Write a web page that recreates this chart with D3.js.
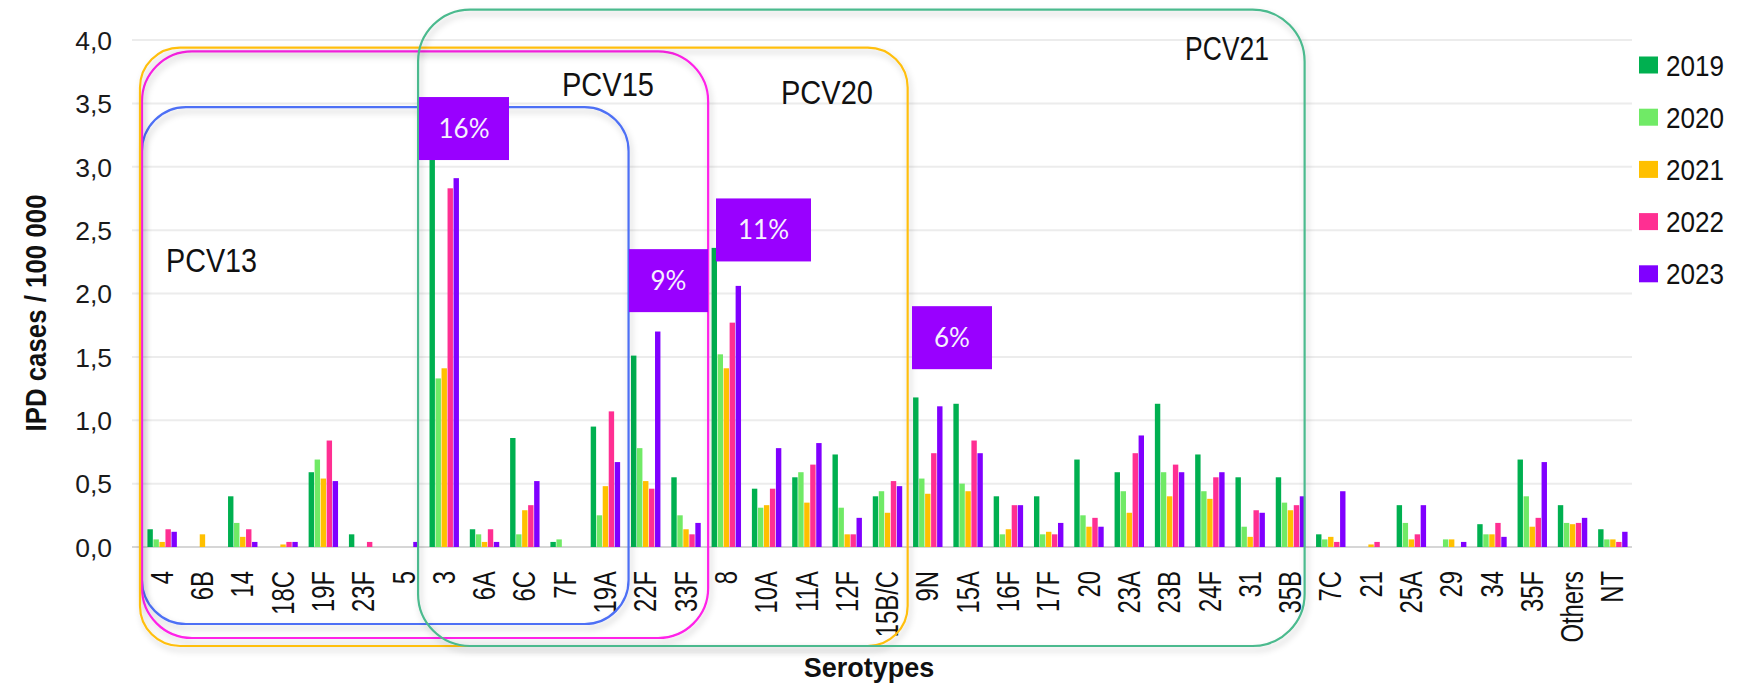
<!DOCTYPE html>
<html><head><meta charset="utf-8">
<script src="https://cdn.jsdelivr.net/npm/d3@7"></script>
<style>html,body{margin:0;padding:0;background:#fff;}svg{display:block;}</style>
</head><body>
<svg id="chart" width="1750" height="686"></svg>
<script>
const categories = ["4","6B","14","18C","19F","23F","5","3","6A","6C","7F","19A","22F","33F","8","10A","11A","12F","15B/C","9N","15A","16F","17F","20","23A","23B","24F","31","35B","7C","21","25A","29","34","35F","Others","NT"];
const years = ["2019","2020","2021","2022","2023"];
const v2019 = [0.14,0,0.40,0,0.59,0.10,0,3.15,0.14,0.86,0.04,0.95,1.51,0.55,2.36,0.46,0.55,0.73,0.40,1.18,1.13,0.40,0.40,0.69,0.59,1.13,0.73,0.55,0.55,0.10,0,0.33,0,0.18,0.69,0.33,0.14];
const v2020 = [0.06,0,0.19,0,0.69,0,0,1.33,0.10,0.10,0.06,0.25,0.78,0.25,1.52,0.31,0.59,0.31,0.44,0.54,0.50,0.10,0.10,0.25,0.44,0.59,0.44,0.16,0.35,0.06,0,0.19,0.06,0.10,0.40,0.19,0.06];
const v2021 = [0.04,0.10,0.08,0.02,0.54,0,0,1.41,0.04,0.29,0,0.48,0.52,0.14,1.41,0.33,0.35,0.10,0.27,0.42,0.44,0.14,0.12,0.16,0.27,0.40,0.38,0.08,0.29,0.08,0.02,0.06,0.06,0.10,0.16,0.18,0.06];
const v2022 = [0.14,0,0.14,0.04,0.84,0.04,0,2.83,0.14,0.33,0,1.07,0.46,0.10,1.77,0.46,0.65,0.10,0.52,0.74,0.84,0.33,0.10,0.23,0.74,0.65,0.55,0.29,0.33,0.04,0.04,0.10,0,0.19,0.23,0.19,0.04];
const v2023 = [0.12,0,0.04,0.04,0.52,0,0.04,2.91,0.04,0.52,0,0.67,1.70,0.19,2.06,0.78,0.82,0.23,0.48,1.11,0.74,0.33,0.19,0.16,0.88,0.59,0.59,0.27,0.40,0.44,0,0.33,0.04,0.08,0.67,0.23,0.12];
const seriesValues = [v2019, v2020, v2021, v2022, v2023];
const yTicks = [0,0.5,1,1.5,2,2.5,3,3.5,4];
const vaccineGroups = ["PCV13","PCV15","PCV20","PCV21"];
const vaccineFirst = ["4","4","4","3"];
const vaccineLast = ["19A","33F","15B/C","35B"];
const vaccineTop = [3.47,3.91,3.94,4.24];
const pctLabels = ["16%","9%","11%","6%"];
const pctCategory = ["3","22F","8","9N"];
const pctTop = [3.55,2.35,2.75,1.90];

const colors = {"2019":"#00b050","2020":"#70ea66","2021":"#ffc000","2022":"#ff2f92","2023":"#8000ff"};
const boxColors = {"PCV13":"#4d6ff5","PCV15":"#ff20e8","PCV20":"#ffbf10","PCV21":"#4cba8e"};

const svg = d3.select("#chart");
const x = d3.scaleBand().domain(categories).range([142,1633]).padding(0);
const x1 = d3.scaleBand().domain(years).range([x.bandwidth()*0.12, x.bandwidth()*0.88]).padding(0.1);
const y = d3.scaleLinear().domain([0,4]).range([547,40]);

const defs = svg.append("defs");
const f = defs.append("filter").attr("id","shadow").attr("x","-5%").attr("y","-5%").attr("width","110%").attr("height","115%");
f.append("feDropShadow").attr("dx",2).attr("dy",4).attr("stdDeviation",3).attr("flood-color","#000").attr("flood-opacity",0.22);

const FONT = "'Liberation Sans', Arial, sans-serif";

// gridlines
svg.append("g").selectAll("line").data(yTicks).join("line")
  .attr("x1",132).attr("x2",1632)
  .attr("y1",d=>y(d)).attr("y2",d=>y(d))
  .attr("stroke",d=>d===0?"#d6d6d6":"#ececec").attr("stroke-width",2);

// y axis labels
const yAxis = d3.axisLeft(y).tickValues(yTicks).tickSize(0).tickPadding(0)
  .tickFormat(d=>d3.format(".1f")(d).replace(".",","));
const gy = svg.append("g").attr("transform","translate(112,0)").call(yAxis);
gy.select(".domain").remove();
gy.selectAll("text").attr("font-family",FONT).attr("font-size",26.5).attr("fill","#1a1a1a").attr("dy","0.35em");

// x axis labels
const xAxis = d3.axisBottom(x).tickSize(0).tickPadding(0);
const gx = svg.append("g").attr("transform","translate(0,571)").call(xAxis);
gx.select(".domain").remove();
gx.selectAll("text")
  .attr("font-family",FONT).attr("font-size",31).attr("fill","#111")
  .attr("text-anchor","end").attr("dy",null).attr("y",0)
  .attr("dominant-baseline","central")
  .attr("transform","rotate(-90) scale(0.77,1)");

// bars
const groups = svg.append("g").selectAll("g").data(categories).join("g")
  .attr("transform",d=>`translate(${x(d)},0)`);
groups.selectAll("rect").data((c,i)=>years.map((yr,k)=>({yr, v:seriesValues[k][i]})))
  .join("rect")
  .attr("x",d=>x1(d.yr)).attr("width",x1.bandwidth())
  .attr("y",d=>y(d.v)).attr("height",d=>y(0)-y(d.v))
  .attr("fill",d=>colors[d.yr]);

// vaccine boxes
const boxBottoms = [624,638,646,646];
const boxLeftAdj = [0,0,-2,-6];
const boxRightAdj = [3,2,0,-6];
const boxRadius = [44,50,40,52];
const boxG = svg.append("g");
vaccineGroups.forEach((g,i)=>{
  const x0 = x(vaccineFirst[i]) + boxLeftAdj[i];
  const xEnd = x(vaccineLast[i]) + x.bandwidth() + boxRightAdj[i];
  const y0 = y(vaccineTop[i]);
  boxG.append("rect").attr("x",x0).attr("y",y0).attr("width",xEnd-x0).attr("height",boxBottoms[i]-y0)
    .attr("rx",boxRadius[i]).attr("ry",boxRadius[i])
    .attr("fill","none").attr("stroke",boxColors[g]).attr("stroke-width",2.2)
    .attr("filter","url(#shadow)");
});

// vaccine labels
const labelPos = [[166,272,91],[562,96,92],[781,104,92],[1185,60,84]];
vaccineGroups.forEach((g,i)=>{
  svg.append("text").attr("x",labelPos[i][0]).attr("y",labelPos[i][1])
    .attr("font-family",FONT).attr("font-size",34).attr("fill","#111")
    .attr("textLength",labelPos[i][2]).attr("lengthAdjust","spacingAndGlyphs")
    .text(g);
});

// percentage boxes
const pctBoxPix = [[419,90],[629,79],[716,95],[912,80]];
pctLabels.forEach((p,i)=>{
  const bx = pctBoxPix[i][0], bw = pctBoxPix[i][1];
  const by = y(pctTop[i]);
  const bh = 63;
  svg.append("rect").attr("x",bx).attr("y",by).attr("width",bw).attr("height",bh).attr("fill","#9900ff");
  svg.append("text").attr("x",bx+bw/2).attr("y",by+bh/2+9)
    .attr("text-anchor","middle").attr("font-family","Lato, 'Open Sans', sans-serif")
    .attr("font-size",26).attr("fill","#f6f0ff").text(p);
});

// legend
const lg = svg.append("g");
years.forEach((yr,i)=>{
  const cy = 65 + i*52.2;
  lg.append("rect").attr("x",1639).attr("y",cy-8.5).attr("width",19).attr("height",17).attr("fill",colors[yr]);
  lg.append("text").attr("x",1666).attr("y",cy+10.5)
    .attr("font-family",FONT).attr("font-size",30).attr("fill","#111")
    .attr("textLength",58).attr("lengthAdjust","spacingAndGlyphs").text(yr);
});

// axis titles
svg.append("text").attr("transform","translate(46,313) rotate(-90)")
  .attr("text-anchor","middle").attr("font-family",FONT).attr("font-weight","bold")
  .attr("font-size",29).attr("fill","#111")
  .attr("textLength",237).attr("lengthAdjust","spacingAndGlyphs")
  .text("IPD cases / 100 000");
svg.append("text").attr("x",869).attr("y",677)
  .attr("text-anchor","middle").attr("font-family",FONT).attr("font-weight","bold")
  .attr("font-size",27).attr("fill","#111")
  .text("Serotypes");
</script>
</body></html>
